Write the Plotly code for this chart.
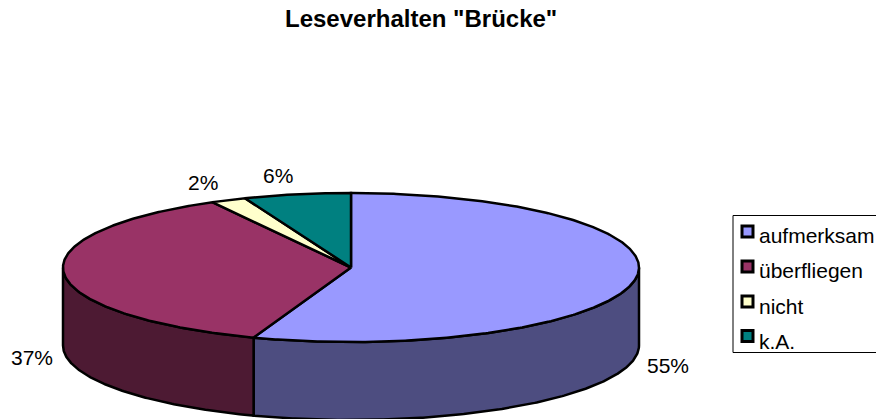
import numpy as np
import plotly.graph_objects as go

title = 'Leseverhalten "Brücke"'
categories = ["aufmerksam", "überfliegen", "nicht", "k.A."]
values = [55.49, 36.51, 2.0, 6.0]
percent_labels = ["55%", "37%", "2%", "6%"]
top_colors = ["#9999FF", "#993366", "#FFFFCC", "#008080"]
side_colors = ["#4D4D80", "#4D1A33", "#80806A", "#004040"]

W, H = 876, 419
CX, CY, RX, RY, DEPTH = 351, 267.5, 288, 74.5, 78
FONT = "Liberation Sans, Arial, sans-serif"
label_pos = [(667.5, 365.5), (32, 357.5), (203, 182.5), (278, 175)]
legend_swatch_x = 747.5
legend_swatch_y = [231.5, 266.5, 301.5, 336]
legend_text_y = [235.5, 270.5, 306, 341.5]


def rim(a0, a1, dy=0.0):
    t = np.radians(np.linspace(a0, a1, max(int(abs(a1 - a0) * 2), 2)))
    return CX + RX * np.sin(t), CY - RY * np.cos(t) + dy


fig = go.Figure()
edges = np.cumsum([0] + values) / sum(values) * 360.0

# side walls (only the front half of the disc, 90°–270°)
for i in range(len(values)):
    a0, a1 = max(edges[i], 90.0), min(edges[i + 1], 270.0)
    if a1 <= a0:
        continue
    xt, yt = rim(a0, a1)
    xb, yb = rim(a1, a0, DEPTH)
    x = np.r_[xt, xb, xt[0]]
    y = np.r_[yt, yb, yt[0]]
    fig.add_trace(go.Scatter(x=x, y=y, mode="lines", fill="toself", fillcolor=side_colors[i],
                             line=dict(color="black", width=2.5), hoverinfo="skip", showlegend=False))

# top faces
for i in range(len(values)):
    xt, yt = rim(edges[i], edges[i + 1])
    x = np.r_[CX, xt, CX]
    y = np.r_[CY, yt, CY]
    fig.add_trace(go.Scatter(x=x, y=y, mode="lines", fill="toself", fillcolor=top_colors[i],
                             line=dict(color="black", width=2.5), hoverinfo="skip", showlegend=False))

# legend swatches
fig.add_trace(go.Scatter(x=[legend_swatch_x] * 4, y=legend_swatch_y, mode="markers",
                         marker=dict(symbol="square", size=11, color=top_colors,
                                     line=dict(color="black", width=3)),
                         hoverinfo="skip", showlegend=False))

annotations = [dict(x=421, y=18.5, text=f"<b>{title}</b>", showarrow=False,
                    font=dict(family=FONT, size=24, color="black"))]
for (lx, ly), t in zip(label_pos, percent_labels):
    annotations.append(dict(x=lx, y=ly, text=t, showarrow=False,
                            font=dict(family=FONT, size=21, color="black")))
for c, ty in zip(categories, legend_text_y):
    annotations.append(dict(x=757, y=ty, text=c, showarrow=False, xanchor="left",
                            font=dict(family=FONT, size=21, color="black")))
for a in annotations:
    a.update(xref="x", yref="y")

fig.update_layout(
    width=W, height=H, margin=dict(l=0, r=0, t=0, b=0),
    paper_bgcolor="white", plot_bgcolor="white", showlegend=False,
    xaxis=dict(range=[0, W], visible=False, fixedrange=True),
    yaxis=dict(range=[H, 0], visible=False, fixedrange=True),
    annotations=annotations,
    shapes=[dict(type="rect", x0=733, x1=890, y0=215.5, y1=352.5,
                 line=dict(color="black", width=1), fillcolor="rgba(0,0,0,0)")],
)
fig.write_html("out.html", config={"displayModeBar": False},
               default_width=f"{W}px", default_height=f"{H}px",
               post_script="document.documentElement.style.margin='0';document.body.style.margin='0';document.body.style.padding='0';")
